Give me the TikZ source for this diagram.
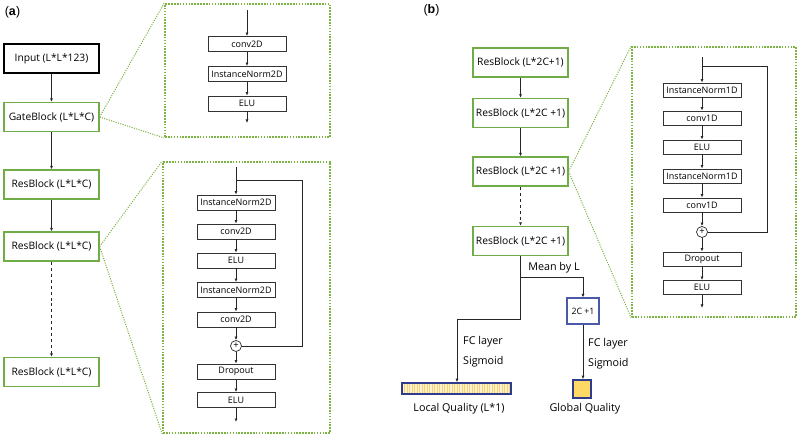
\documentclass[tikz,border=0pt]{standalone}
\usepackage{fontspec}
\setmainfont{Open Sans}
\newfontfamily\panelfont{Liberation Sans}
\usetikzlibrary{arrows.meta,calc}
\definecolor{boxgreen}{HTML}{70AD47}
\definecolor{dotgreen}{HTML}{7DB343}
\definecolor{qblue}{HTML}{2F3C8C}
\definecolor{gcblue}{HTML}{4A5AA8}
\definecolor{qgold}{HTML}{FFD966}
\definecolor{qlight}{HTML}{FFF2CC}
\definecolor{qstripe}{HTML}{F2D27A}
\begin{document}
\begin{tikzpicture}[x=1bp,y=-1bp,
  mainbox/.style={draw=boxgreen, line width=1.3bp, minimum width=95bp, minimum height=29bp, inner sep=0pt, font=\fontsize{10.3}{12}\selectfont},
  inbox/.style={draw=black!80, line width=0.9bp, minimum width=78bp, minimum height=15bp, inner sep=0pt, font=\fontsize{9}{10}\selectfont},
  inboxs/.style={inbox, minimum height=14bp},
  arr/.style={-{Latex[length=3.5bp,width=3bp]}, line width=0.8bp, draw=black!85},
  plainline/.style={line width=0.8bp, draw=black!85},
  framebox/.style={draw=dotgreen, line width=1.7bp, dash pattern=on 1.6bp off 1.3bp, inner sep=0pt},
  zoomline/.style={draw=dotgreen, line width=1bp, dash pattern=on 1.1bp off 1.3bp},
  plusc/.style={circle, draw=black!85, line width=0.7bp, minimum size=11bp, inner sep=0pt, font=\fontsize{9.5}{9.5}\selectfont},
  lbl/.style={inner sep=0pt, font=\fontsize{10.8}{12}\selectfont},
  panel/.style={inner sep=0pt, font=\panelfont\fontsize{12.5}{14}\selectfont}
]
\useasboundingbox (0,0) rectangle (800,438);

% ---------- panel (a) ----------
\node[panel] (la) at (12.5,12) {(\textbf{a})};
\node[mainbox, draw=black, line width=1.1bp] (inp) at (51.5,58.5) {Input (L*L*123)};
\node[mainbox] (gate) at (51.5,117) {GateBlock (L*L*C)};
\node[mainbox] (ra1) at (51.5,184.5) {ResBlock (L*L*C)};
\node[mainbox] (ra2) at (51.5,246.5) {ResBlock (L*L*C)};
\node[mainbox] (ra3) at (51.5,372) {ResBlock (L*L*C)};
\draw[arr] (inp) -- (gate);
\draw[arr] (gate) -- (ra1);
\draw[arr] (ra1) -- (ra2);
\draw[arr, dashed] (ra2) -- (ra3);

% gate detail
\node[framebox, minimum width=165bp, minimum height=133bp] (fg) at (247.5,70.5) {};
\draw[zoomline] (gate.east) -- (fg.north west);
\draw[zoomline] (gate.east) -- (fg.south west);
\coordinate (g0) at (247,10);
\node[inbox] (g1) at (247,44) {conv2D};
\node[inbox] (g2) at (247,74) {InstanceNorm2D};
\node[inbox] (g3) at (247,103.5) {ELU};
\coordinate (g4) at (247,123);
\draw[arr] (g0) -- (g1);
\draw[arr] (g1) -- (g2);
\draw[arr] (g2) -- (g3);
\draw[arr] (g3) -- (g4);

% res detail
\node[framebox, minimum width=167bp, minimum height=271bp] (fr) at (246.5,297.5) {};
\draw[zoomline] (ra2.east) -- (fr.north west);
\draw[zoomline] (ra2.east) -- (fr.south west);
\coordinate (r0) at (236,167);
\coordinate (rj) at (236,180);
\node[inbox] (r1) at (236,202.5) {InstanceNorm2D};
\node[inbox] (r2) at (236,231.5) {conv2D};
\node[inbox] (r3) at (236,260.5) {ELU};
\node[inbox] (r4) at (236,290) {InstanceNorm2D};
\node[inbox] (r5) at (236,319.5) {conv2D};
\node[plusc] (rp) at (236,346) {+};
\node[inbox] (r6) at (236,371.5) {Dropout};
\node[inbox] (r7) at (236,400) {ELU};
\coordinate (r8) at (236,422);
\coordinate (rc) at (302,180);
\coordinate (rd) at (302,346);
\draw[plainline] (r0) -- (rj);
\draw[arr] (rj) -- (r1);
\draw[arr] (r1) -- (r2);
\draw[arr] (r2) -- (r3);
\draw[arr] (r3) -- (r4);
\draw[arr] (r4) -- (r5);
\draw[arr] (r5) -- (rp);
\draw[arr] (rp) -- (r6);
\draw[arr] (r6) -- (r7);
\draw[arr] (r7) -- (r8);
\draw[plainline] (rj) -- (rc) -- (rd) -- (rp.east);

% ---------- panel (b) ----------
\node[panel] (lb) at (431.5,10) {(\textbf{b})};
\node[mainbox] (rb1) at (520.5,62.5) {ResBlock (L*2C+1)};
\node[mainbox] (rb2) at (520.5,113) {ResBlock (L*2C +1)};
\node[mainbox] (rb3) at (520.5,171.5) {ResBlock (L*2C +1)};
\node[mainbox] (rb4) at (520.5,241) {ResBlock (L*2C +1)};
\draw[arr] (rb1) -- (rb2);
\draw[arr] (rb2) -- (rb3);
\draw[arr, dashed] (rb3) -- (rb4);

\coordinate (jb) at (520.5,277);
\coordinate (jr) at (583,277);
\coordinate (jl1) at (520.5,319);
\coordinate (jl2) at (457,319);
\node[draw=gcblue, line width=1.1bp, minimum width=32bp, minimum height=26bp, inner sep=0pt, font=\fontsize{8.8}{10}\selectfont] (gc) at (583,311) {2C +1};
\node[draw=qblue, line width=1.6bp, fill=qlight, minimum width=109bp, minimum height=11bp, inner sep=0pt,
  path picture={\foreach \k in {1,...,43}{\draw[qstripe, line width=0.9bp] ([xshift=\k*2.5bp]path picture bounding box.south west) -- ([xshift=\k*2.5bp]path picture bounding box.north west);}}] (lq) at (456.5,388.5) {};
\node[draw=qblue, line width=1.6bp, fill=qgold, minimum width=18bp, minimum height=18bp, inner sep=0pt] (gq) at (582,389) {};
\draw[plainline] (rb4) -- (jb) -- (jl1) -- (jl2);
\draw[arr] (jl2) -- (jl2 |- lq.north);
\draw[arr] (jb) -- (jr) -- (gc.north);
\draw[arr] (gc.south) -- (gc.south |- gq.north);

\node[lbl] (mean) at (554,268) {Mean by L};
\node[lbl, anchor=west] (fc1) at (463,342) {FC layer};
\node[lbl, anchor=west] (sg1) at (463,362) {Sigmoid};
\node[lbl, anchor=west] (fc2) at (588,344) {FC layer};
\node[lbl, anchor=west] (sg2) at (588,364) {Sigmoid};
\node[lbl] (lql) at (459,409) {Local Quality (L*1)};
\node[lbl] (gql) at (585,409) {Global Quality};

% 1D res detail
\node[framebox, minimum width=164bp, minimum height=270bp] (fb) at (714,182) {};
\draw[zoomline] (rb3.east) -- (fb.north west);
\draw[zoomline] (rb3.east) -- (fb.south west);
\coordinate (q0) at (702,57);
\coordinate (qj) at (702,66);
\node[inboxs] (q1) at (702,90) {InstanceNorm1D};
\node[inboxs] (q2) at (702,118) {conv1D};
\node[inboxs] (q3) at (702,147) {ELU};
\node[inboxs] (q4) at (702,176) {InstanceNorm1D};
\node[inboxs] (q5) at (702,205) {conv1D};
\node[plusc] (qp) at (702,232) {+};
\node[inboxs] (q6) at (702,259) {Dropout};
\node[inboxs] (q7) at (702,287.5) {ELU};
\coordinate (q8) at (702,308);
\coordinate (qc) at (767,66);
\coordinate (qd) at (767,232);
\draw[plainline] (q0) -- (qj);
\draw[arr] (qj) -- (q1);
\draw[arr] (q1) -- (q2);
\draw[arr] (q2) -- (q3);
\draw[arr] (q3) -- (q4);
\draw[arr] (q4) -- (q5);
\draw[arr] (q5) -- (qp);
\draw[arr] (qp) -- (q6);
\draw[arr] (q6) -- (q7);
\draw[arr] (q7) -- (q8);
\draw[plainline] (qj) -- (qc) -- (qd) -- (qp.east);
\end{tikzpicture}
\end{document}
